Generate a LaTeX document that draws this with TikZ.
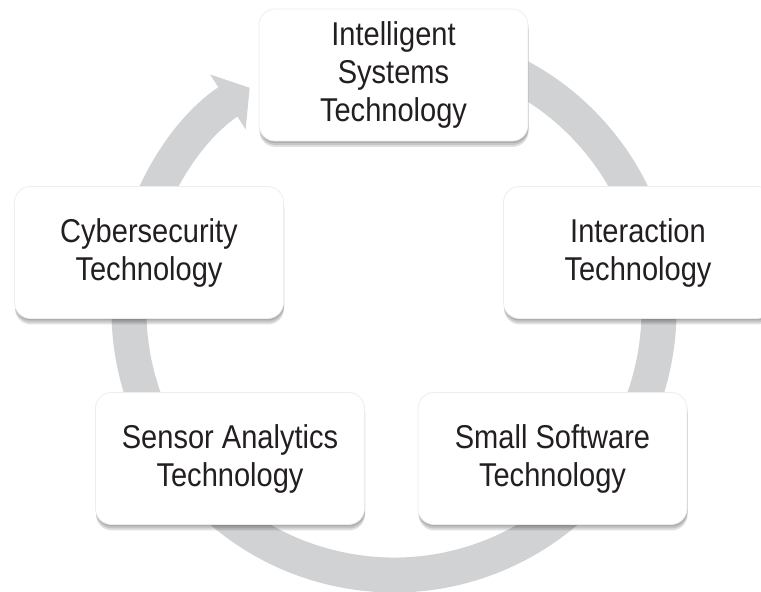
\documentclass[tikz,border=0pt]{standalone}
\usepackage{fontspec}
\setmainfont[FakeStretch=0.88]{Liberation Sans}
\usetikzlibrary{shadows,arrows.meta}

\definecolor{ringgray}{RGB}{209,210,212}
\definecolor{textgray}{RGB}{35,31,32}

\tikzset{
  softshadow/.style={drop shadow={shadow xshift=0.5pt, shadow yshift=-#1, opacity=0.12, fill=black}},
  techbox/.style={fill=white, draw=black!7, line width=0.8pt, rounded corners=16pt,
    minimum width=269pt, minimum height=132pt,
    align=center, text=textgray, font=\fontsize{33}{38}\selectfont,
    softshadow=6pt, softshadow=4pt, softshadow=2pt},
}

\begin{document}
\begin{tikzpicture}[x=1pt,y=1pt]
\useasboundingbox (0,0) rectangle (761,592);

% the cycle arrow behind the boxes
\coordinate (C) at (394,282);
\draw[ringgray, line width=35pt, -{Triangle[length=26pt,width=64pt]}]
  (C) ++(80:265) arc[start angle=80, end angle=-237, radius=265];

\node[techbox] (IST) at (393.5,517) {Intelligent\\Systems\\Technology};
\node[techbox] (IT) at (638,339.5) {Interaction\\Technology};
\node[techbox] (SST) at (552.5,133.5) {Small Software\\Technology};
\node[techbox] (SAT) at (230,133.5) {Sensor Analytics\\Technology};
\node[techbox] (CT) at (149,339.5) {Cybersecurity\\Technology};
\end{tikzpicture}
\end{document}
